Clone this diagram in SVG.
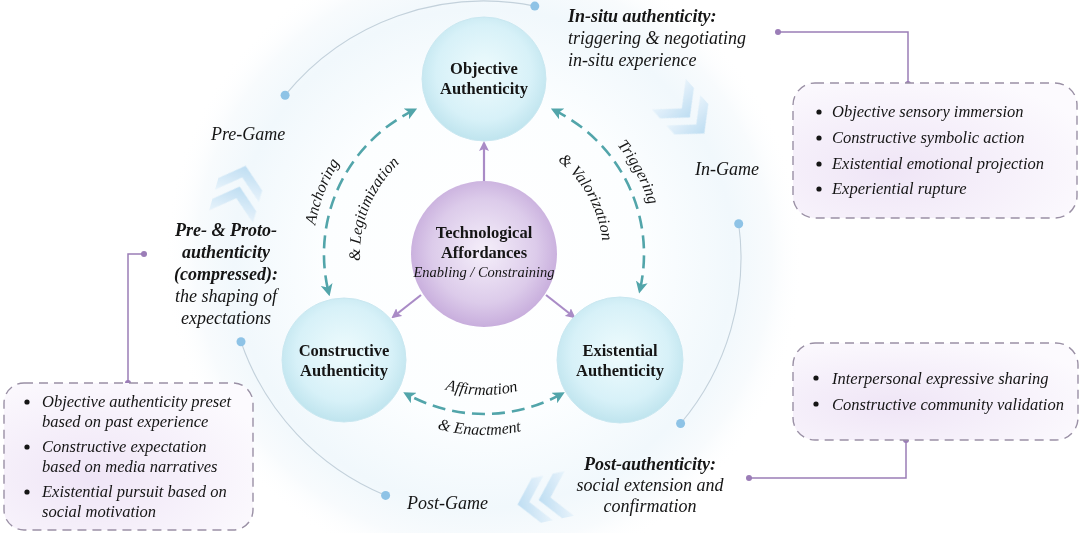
<svg xmlns="http://www.w3.org/2000/svg" xmlns:xlink="http://www.w3.org/1999/xlink" width="1080" height="533" viewBox="0 0 1080 533">
<style>
.t{font-family:"Liberation Serif","Times New Roman",serif;fill:#151515}
.nb{font-size:16.5px;font-weight:bold;text-anchor:middle}
.it{font-style:italic}
.bi{font-style:italic;font-weight:bold}
.lab{font-size:18px}
.box{font-size:16.5px;font-style:italic}
.arc{font-size:16px;font-style:italic}
.ring{fill:none;stroke:#c3d1db;stroke-width:1.1}
.dot{fill:#8ec3e6}
.dash{fill:none;stroke:#52a5aa;stroke-width:2.6;stroke-dasharray:13 7}
.parr{stroke:#a98bc6;stroke-width:2.2;fill:none}
.bx{fill:url(#boxg);stroke:#9a90a5;stroke-width:1.4;stroke-dasharray:9 6}
.conn{fill:none;stroke:#9b7db7;stroke-width:1.5}
.cdot{fill:#9b7db7}
.chev{fill:url(#chg);opacity:0.7}
</style>
<defs>
<radialGradient id="bg" cx="484" cy="258" r="320" gradientUnits="userSpaceOnUse">
<stop offset="0" stop-color="#ffffff"/>
<stop offset="0.5" stop-color="#fcfeff"/>
<stop offset="0.78" stop-color="#f1f8fc"/>
<stop offset="0.9" stop-color="#f8fbfd"/>
<stop offset="1" stop-color="#ffffff" stop-opacity="0"/>
</radialGradient>
<radialGradient id="ng" cx="50%" cy="45%" r="55%">
<stop offset="0" stop-color="#eefbfd"/>
<stop offset="0.7" stop-color="#d7f1f8"/>
<stop offset="1" stop-color="#bfe4ee"/>
</radialGradient>
<radialGradient id="tg" cx="50%" cy="48%" r="55%">
<stop offset="0" stop-color="#f5effa"/>
<stop offset="0.65" stop-color="#dccbea"/>
<stop offset="1" stop-color="#c4a8da"/>
</radialGradient>
<radialGradient id="boxg" cx="35%" cy="65%" r="75%">
<stop offset="0" stop-color="#efe5f6"/>
<stop offset="1" stop-color="#fcfafe"/>
</radialGradient>
<linearGradient id="chg" x1="0" y1="0" x2="1" y2="0">
<stop offset="0" stop-color="#e2f0fa"/>
<stop offset="1" stop-color="#a8d2ee"/>
</linearGradient>
<marker id="ta" viewBox="0 0 10 10" refX="7" refY="5" markerWidth="12" markerHeight="12" markerUnits="userSpaceOnUse" orient="auto-start-reverse">
<path d="M0,0 L10,5 L0,10 L2.5,5 z" fill="#52a5aa"/>
</marker>
<marker id="pa" viewBox="0 0 10 10" refX="8" refY="5" markerWidth="10" markerHeight="10" markerUnits="userSpaceOnUse" orient="auto">
<path d="M0,0 L10,5 L0,10 L2,5 z" fill="#a98bc6"/>
</marker>
<g id="chev">
<polygon points="-4,0 -20,-19 -30,-19 -14,0 -30,19 -20,19"/>
<polygon points="14,0 -2,-19 -12,-19 4,0 -12,19 -2,19"/>
</g>
<path id="pAnch" d="M318.1,295.4 A171,171 0 0 1 388.4,112.2"/>
<path id="pLeg" d="M374.5,312.2 A124,124 0 0 1 445.7,136.1"/>
<path id="pTrig" d="M562.1,100.7 A172,172 0 0 1 654.7,275.0"/>
<path id="pVal" d="M506.7,137.2 A119,119 0 0 1 595.1,296.6"/>
<path id="pAff" d="M391.5,360.4 A141,141 0 0 0 572.7,363.6"/>
<path id="pEna" d="M376.3,399.5 A181,181 0 0 0 583.9,404.9"/>
</defs>
<rect width="1080" height="533" fill="#ffffff"/>
<circle cx="484" cy="258" r="320" fill="url(#bg)"/>

<g id="chevrons" class="chev">
<use xlink:href="#chev" href="#chev" transform="translate(241,182) rotate(-74) scale(1.2)"/>
<use xlink:href="#chev" href="#chev" transform="translate(693,121) rotate(48) scale(1.2)"/>
<use xlink:href="#chev" href="#chev" transform="translate(534,501) rotate(168) scale(1.2)"/>
</g>

<g id="ring">
<path class="ring" d="M285.1,95.2 A257,257 0 0 1 534.8,6.1"/>
<path class="ring" d="M738.7,223.8 A257,257 0 0 1 680.6,423.5"/>
<path class="ring" d="M241,341.7 A257,257 0 0 0 385.6,495.4"/>
<circle class="dot" cx="285.1" cy="95.2" r="4.5"/>
<circle class="dot" cx="534.8" cy="6.1" r="4.5"/>
<circle class="dot" cx="738.7" cy="223.8" r="4.5"/>
<circle class="dot" cx="680.6" cy="423.5" r="4.5"/>
<circle class="dot" cx="241" cy="341.7" r="4.5"/>
<circle class="dot" cx="385.6" cy="495.4" r="4.5"/>
</g>

<g id="connectors">
<path class="dash" d="M413.9,110.2 A160,160 0 0 0 328.7,292.7" marker-start="url(#ta)" marker-end="url(#ta)"/>
<path class="dash" d="M554.1,110.2 A160,160 0 0 1 639.9,290.0" marker-start="url(#ta)" marker-end="url(#ta)"/>
<path class="dash" d="M561.6,393.9 A160,160 0 0 1 406.4,393.9" marker-start="url(#ta)" marker-end="url(#ta)"/>
<line class="parr" x1="484" y1="181" x2="484" y2="143" marker-end="url(#pa)"/>
<line class="parr" x1="421" y1="295" x2="393" y2="317" marker-end="url(#pa)"/>
<line class="parr" x1="546" y1="295" x2="574" y2="317" marker-end="url(#pa)"/>
<polyline class="conn" points="778,32 908,32 908,84"/>
<circle class="cdot" cx="778" cy="32" r="3"/>
<circle class="cdot" cx="908" cy="84" r="3"/>
<polyline class="conn" points="144,254 128,254 128,383"/>
<circle class="cdot" cx="144" cy="254" r="3"/>
<circle class="cdot" cx="128" cy="383" r="3"/>
<polyline class="conn" points="906,440 906,478 749,478"/>
<circle class="cdot" cx="906" cy="440" r="3"/>
<circle class="cdot" cx="749" cy="478" r="3"/>
</g>

<g id="arc-labels" class="t arc">
<text><textPath href="#pAnch" xlink:href="#pAnch" startOffset="50%" text-anchor="middle">Anchoring</textPath></text>
<text><textPath href="#pLeg" xlink:href="#pLeg" startOffset="50%" text-anchor="middle">&amp; Legitimization</textPath></text>
<text><textPath href="#pTrig" xlink:href="#pTrig" startOffset="50%" text-anchor="middle">Triggering</textPath></text>
<text><textPath href="#pVal" xlink:href="#pVal" startOffset="50%" text-anchor="middle">&amp; Valorization</textPath></text>
<text><textPath href="#pAff" xlink:href="#pAff" startOffset="50%" text-anchor="middle">Affirmation</textPath></text>
<text><textPath href="#pEna" xlink:href="#pEna" startOffset="50%" text-anchor="middle">&amp; Enactment</textPath></text>
</g>

<g id="node-objective">
<circle cx="484" cy="79" r="62" fill="url(#ng)" stroke="#c9e7f0" stroke-width="1"/>
<text class="t nb" x="484" y="74">Objective</text>
<text class="t nb" x="484" y="94">Authenticity</text>
</g>
<g id="node-technological">
<circle cx="484" cy="254" r="73" fill="url(#tg)"/>
<text class="t nb" x="484" y="238">Technological</text>
<text class="t nb" x="484" y="258">Affordances</text>
<text class="t it" x="484" y="277" font-size="14.5" text-anchor="middle">Enabling / Constraining</text>
</g>
<g id="node-constructive">
<circle cx="344" cy="360" r="62" fill="url(#ng)" stroke="#c9e7f0" stroke-width="1"/>
<text class="t nb" x="344" y="356">Constructive</text>
<text class="t nb" x="344" y="376">Authenticity</text>
</g>
<g id="node-existential">
<circle cx="620" cy="360" r="63" fill="url(#ng)" stroke="#c9e7f0" stroke-width="1"/>
<text class="t nb" x="620" y="356">Existential</text>
<text class="t nb" x="620" y="376">Authenticity</text>
</g>

<g id="phase-labels" class="t it lab">
<text x="211" y="140">Pre-Game</text>
<text x="695" y="175">In-Game</text>
<text x="407" y="509">Post-Game</text>
</g>

<g id="insitu-label" class="t lab">
<text class="bi" x="568" y="22">In-situ authenticity:</text>
<text class="it" x="568" y="44">triggering &amp; negotiating</text>
<text class="it" x="568" y="66">in-situ experience</text>
</g>

<g id="pre-label" class="t lab" text-anchor="middle">
<text class="bi" x="226" y="236">Pre- &amp; Proto-</text>
<text class="bi" x="226" y="258">authenticity</text>
<text class="bi" x="226" y="280">(compressed):</text>
<text class="it" x="226" y="302">the shaping of</text>
<text class="it" x="226" y="324">expectations</text>
</g>

<g id="post-label" class="t lab" text-anchor="middle">
<text class="bi" x="650" y="470">Post-authenticity:</text>
<text class="it" x="650" y="491">social extension and</text>
<text class="it" x="650" y="512">confirmation</text>
</g>

<g id="box-insitu">
<rect class="bx" x="793" y="83" width="284" height="135" rx="22"/>
<g class="t box">
<circle cx="819" cy="112" r="2.6" fill="#151515"/>
<text x="832" y="117">Objective sensory immersion</text>
<circle cx="819" cy="138" r="2.6" fill="#151515"/>
<text x="832" y="143">Constructive symbolic action</text>
<circle cx="819" cy="164" r="2.6" fill="#151515"/>
<text x="832" y="169">Existential emotional projection</text>
<circle cx="819" cy="189" r="2.6" fill="#151515"/>
<text x="832" y="194">Experiential rupture</text>
</g>
</g>

<g id="box-pre">
<rect class="bx" x="4" y="383" width="249" height="147" rx="20"/>
<g class="t box">
<circle cx="27" cy="402" r="2.6" fill="#151515"/>
<text x="42" y="407">Objective authenticity preset</text>
<text x="42" y="427">based on past experience</text>
<circle cx="27" cy="447" r="2.6" fill="#151515"/>
<text x="42" y="452">Constructive expectation</text>
<text x="42" y="472">based on media narratives</text>
<circle cx="27" cy="492" r="2.6" fill="#151515"/>
<text x="42" y="497">Existential pursuit based on</text>
<text x="42" y="517">social motivation</text>
</g>
</g>

<g id="box-post">
<rect class="bx" x="793" y="343" width="285" height="97" rx="22"/>
<g class="t box">
<circle cx="816" cy="378" r="2.6" fill="#151515"/>
<text x="832" y="384">Interpersonal expressive sharing</text>
<circle cx="816" cy="404" r="2.6" fill="#151515"/>
<text x="832" y="410">Constructive community validation</text>
</g>
</g>
</svg>
